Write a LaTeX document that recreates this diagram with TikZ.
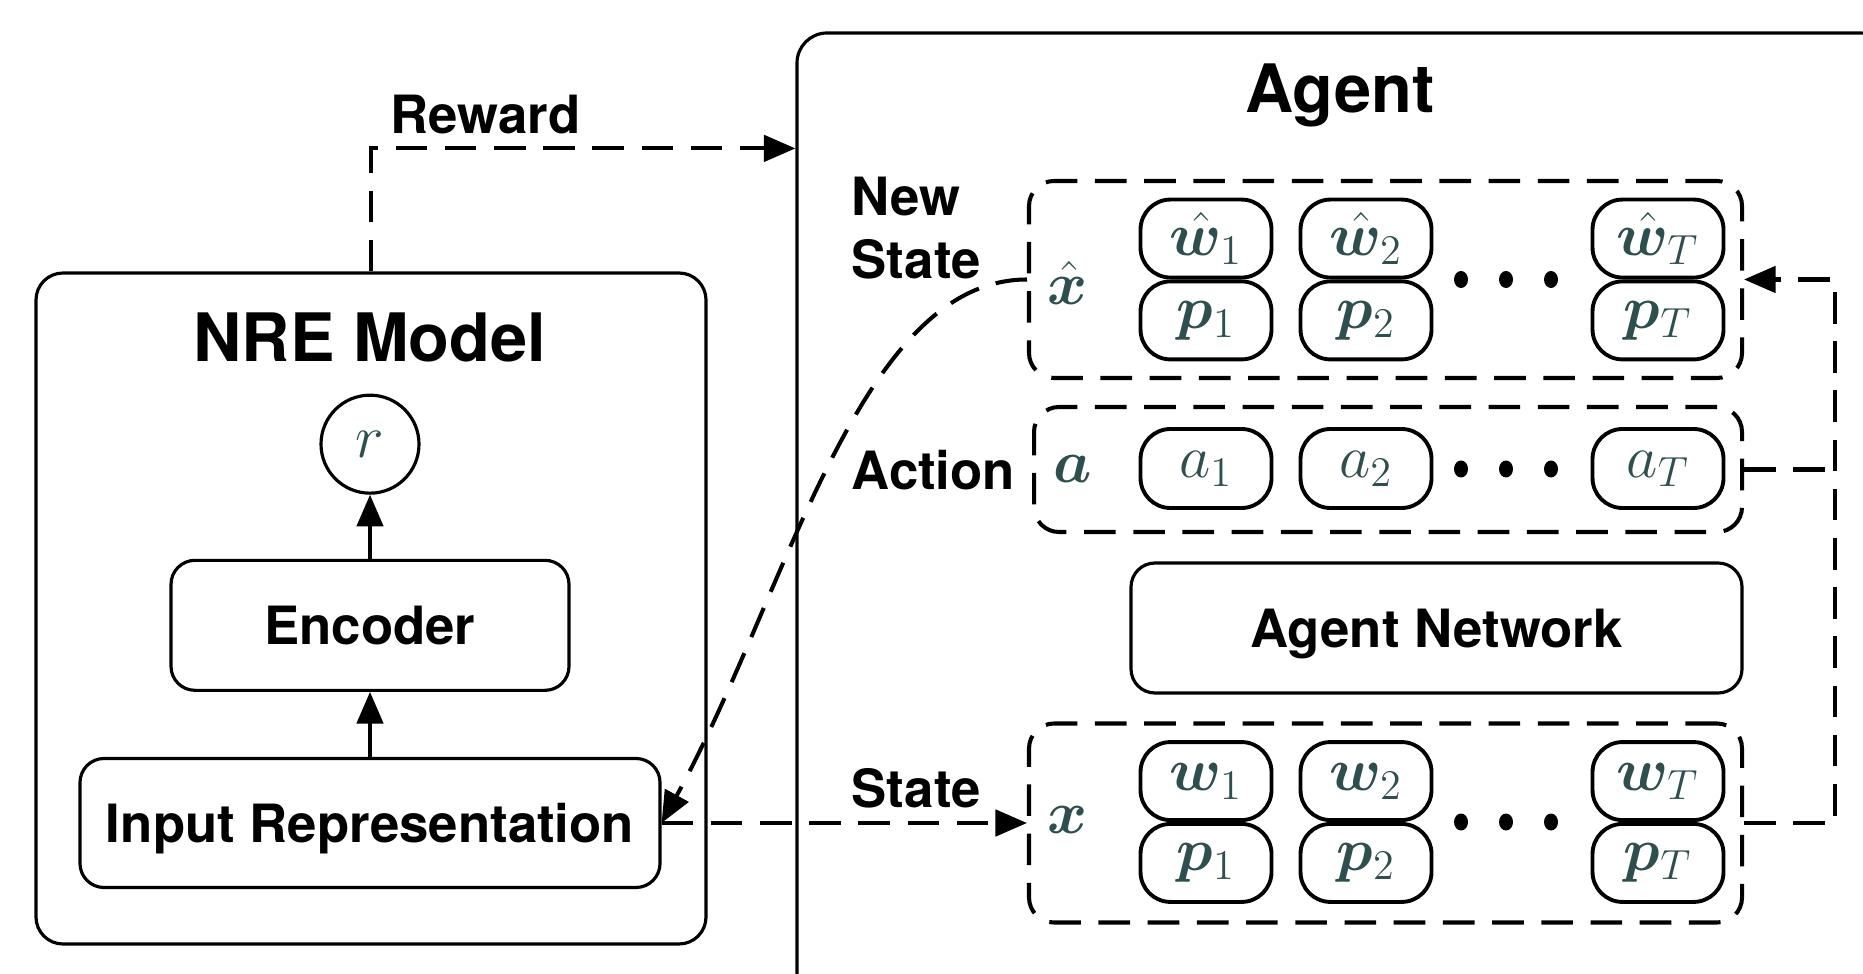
\documentclass[tikz,border=0pt]{standalone}
\usepackage{bm}
\usepackage{fontspec}
\setsansfont{TeX Gyre Heros}
\usetikzlibrary{positioning, arrows.meta, calc}

\definecolor{mathgray}{HTML}{2F4F4F}

\begin{document}
\begin{tikzpicture}[
    outerbox/.style={
        draw,
        line width=0.9pt,
        rounded corners=0.27cm
    },
    blockbox/.style={
        draw,
        line width=0.9pt,
        rounded corners=0.24cm,
        text depth=0pt,
        font=\sffamily\bfseries\fontsize{15}{18}\selectfont
    },
    groupbox/.style={
        draw,
        line width=1.15pt,
        dash pattern=on 9pt off 5pt,
        rounded corners=0.25cm,
        minimum width=7.13cm
    },
    tokbox/.style={
        draw,
        line width=1.1pt,
        rounded corners=0.3cm,
        minimum width=1.31cm,
        minimum height=0.78cm,
        inner sep=0pt,
        text=mathgray,
        font=\LARGE
    },
    vec/.style={
        text=mathgray,
        font=\LARGE
    },
    lbl/.style={
        font=\sffamily\bfseries\fontsize{15}{18}\selectfont,
        inner sep=2pt,
        align=left
    },
    boxtitle/.style={
        font=\sffamily\bfseries\fontsize{19}{23}\selectfont
    },
    arr/.style={
        -{Triangle[length=9pt,width=7.5pt]},
        line width=1pt
    },
    dasharr/.style={
        arr,
        line width=1.15pt,
        dash pattern=on 9pt off 5pt
    },
    dashline/.style={
        line width=1.15pt,
        dash pattern=on 9pt off 5pt
    }
]

    \useasboundingbox (0,0) rectangle (18.63,9.73);
    \clip (0,0) rectangle (18.63,9.73);

    % NRE model
    \node[outerbox, minimum width=6.70cm, minimum height=6.71cm] (nreBox) at (3.71,3.645) {};
    \node[boxtitle] (nreTitle) at (3.70,6.36) {NRE Model};
    \node[blockbox, minimum width=5.80cm, minimum height=1.29cm] (inputBox) at (3.70,1.50) {Input Representation};
    \node[blockbox, minimum width=3.98cm, minimum height=1.30cm, above=0.65cm of inputBox] (encBox) {Encoder};
    \node[circle, draw, line width=0.9pt, minimum size=0.98cm, inner sep=0pt, vec, above=0.64cm of encBox] (nodeR) {$r$};

    \draw[arr] (inputBox) -- (encBox);
    \draw[arr] (encBox) -- (nodeR);

    % Agent (runs off the page on the right and bottom)
    \node[outerbox, rounded corners=0.3cm, minimum width=10.93cm, minimum height=9.8cm] (agentBox) at (13.435,4.50) {};
    \node[boxtitle] (agentTitle) at (13.40,8.78) {Agent};

    \node[groupbox, minimum height=1.97cm] (newState) at (13.855,6.935) {};
    \node[groupbox, minimum width=7.08cm, minimum height=1.25cm] (actBox) at (13.88,5.035) {};
    \node[blockbox, minimum width=6.11cm, minimum height=1.30cm] (agentNet) at (14.365,3.45) {Agent Network};
    \node[groupbox, minimum height=1.99cm] (stateBox) at (13.855,1.50) {};

    % token columns
    \foreach \i/\x in {1/12.06, 2/13.66, T/16.58} {
        \node[tokbox, anchor=south] (wh\i) at (\x,6.935) {$\hat{\bm{w}}_\i$};
        \node[tokbox, anchor=north] (ph\i) at (\x,6.935) {$\bm{p}_\i$};
        \node[tokbox, minimum height=0.79cm] (a\i) at (\x,5.045) {$a_\i$};
        \node[tokbox, anchor=south] (w\i) at (\x,1.51) {$\bm{w}_\i$};
        \node[tokbox, anchor=north] (p\i) at (\x,1.51) {$\bm{p}_\i$};
    }

    % dots between the columns
    \foreach \y in {6.935, 5.04, 1.51} {
        \foreach \x in {14.61, 15.06, 15.51}
            \fill (\x,\y) ellipse (0.07 and 0.085);
    }

    % vector names inside the groups
    \node[vec] (xHat) at (10.67,6.90) {$\hat{\bm{x}}$};
    \node[vec] (aVec) at (10.73,5.04) {$\bm{a}$};
    \node[vec] (xVec) at (10.67,1.53) {$\bm{x}$};

    % group labels
    \node[lbl, anchor=west] (newLbl) at (8.44,7.45) {New\\State};
    \node[lbl, anchor=west] (actLbl) at (8.44,5.03) {Action};
    \node[lbl, anchor=west] (stateLbl) at (8.44,1.85) {State};

    % connectors
    \draw[dasharr] (nreBox.north) |- node[pos=0.635, above=0.05cm, lbl] {Reward} ([yshift=-1.17cm]agentBox.north west);
    \draw[dasharr] (inputBox.east) -- (stateBox.west);
    \draw[dasharr] (newState.west) .. controls +(-1.69,0) and +(1.25,2.27) .. (inputBox.east);

    \coordinate (fbRight) at (18.35,0);
    \draw[dasharr] (stateBox.east) -- (stateBox.east -| fbRight) |- (newState.east);
    \draw[dashline] (actBox.east) -- (actBox.east -| fbRight);

\end{tikzpicture}
\end{document}
